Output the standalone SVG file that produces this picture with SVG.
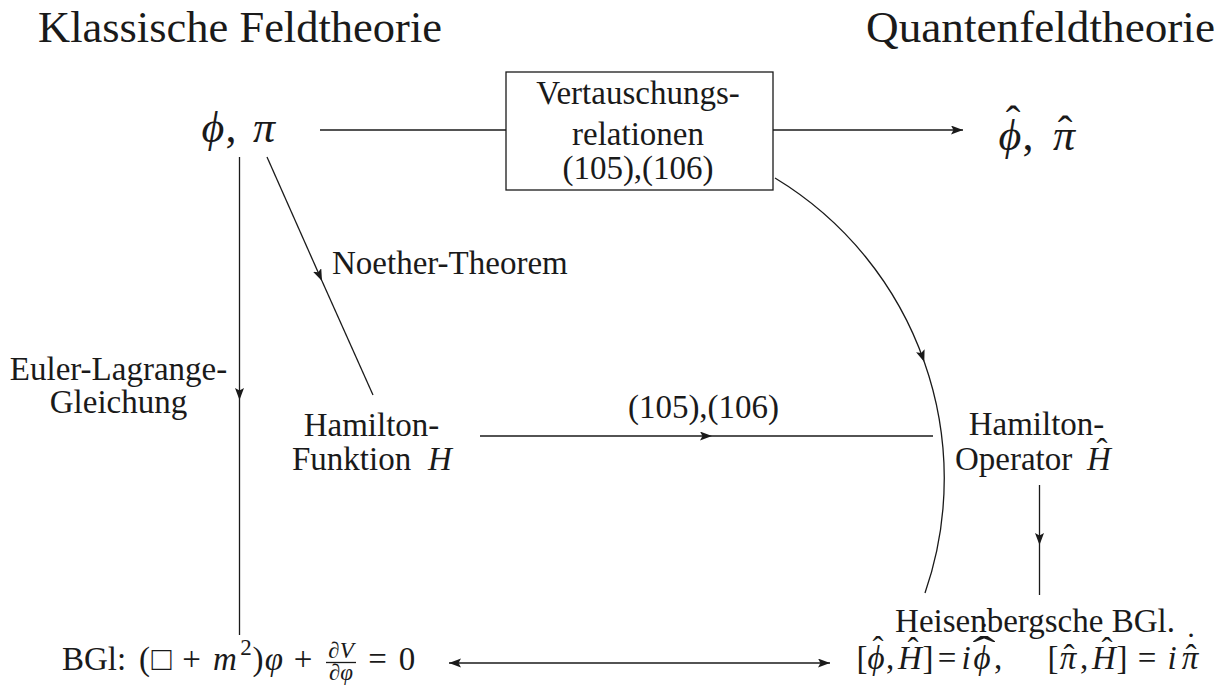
<svg xmlns="http://www.w3.org/2000/svg" width="1217" height="687" viewBox="0 0 1217 687">
<style>
.t{font-family:"Liberation Serif",serif;font-size:33px;fill:#1a1a1a}
.it{font-style:italic}
.big{font-size:44px}
.sm{font-size:23px}
.c{text-anchor:middle}
.ln{stroke:#1a1a1a;stroke-width:1.3;fill:none}
</style>
<defs>
<marker id="ah" markerUnits="userSpaceOnUse" markerWidth="13" markerHeight="10" refX="12" refY="4.5" orient="auto-start-reverse" viewBox="0 0 13 10">
<path d="M0,0 L12,4.5 L0,9 L2.5,4.5 z" fill="#1a1a1a"/>
</marker>
</defs>
<rect width="1217" height="687" fill="#fff"/>

<g id="title-klassisch"><text class="t big" x="38" y="42" textLength="404" lengthAdjust="spacingAndGlyphs">Klassische Feldtheorie</text></g>
<g id="title-quanten"><text class="t big" x="866" y="42" textLength="349" lengthAdjust="spacingAndGlyphs">Quantenfeldtheorie</text></g>

<g id="node-phi-pi">
<text class="t big it c" x="213" y="142">ϕ</text>
<text class="t big c" x="231" y="142">,</text>
<text class="t big it c" x="264" y="142">π</text>
</g>

<g id="node-vertauschung">
<rect class="ln" x="506" y="72" width="267" height="118"/>
<text class="t c" x="638" y="104">Vertauschungs-</text>
<text class="t c" x="638" y="145">relationen</text>
<text class="t c" x="638" y="179">(105),(106)</text>
</g>

<g id="node-phihat-pihat">
<text class="t big it c" x="1010" y="150">ϕ</text>
<text class="t big c" x="1013" y="136">ˆ</text>
<text class="t big c" x="1028" y="150">,</text>
<text class="t big it c" x="1064" y="150">π</text>
<text class="t big c" x="1065" y="146">ˆ</text>
</g>

<g id="label-noether"><text class="t" x="332" y="274">Noether-Theorem</text></g>

<g id="label-euler">
<text class="t c" x="118.5" y="380">Euler-Lagrange-</text>
<text class="t c" x="118.5" y="413">Gleichung</text>
</g>

<g id="node-hamilton-funktion">
<text class="t c" x="371.5" y="436">Hamilton-</text>
<text class="t" x="292" y="470">Funktion</text>
<text class="t it c" x="440" y="470">H</text>
</g>

<g id="label-105-106"><text class="t c" x="703.5" y="418">(105),(106)</text></g>

<g id="node-hamilton-operator">
<text class="t c" x="1036.5" y="435">Hamilton-</text>
<text class="t" x="955" y="470">Operator</text>
<text class="t it c" x="1099" y="470">H</text>
<text class="t c" x="1102" y="462">ˆ</text>
</g>

<g id="node-heisenberg">
<text class="t c" x="1035" y="632">Heisenbergsche BGl.</text>
<text class="t c" x="862" y="669">[</text>
<text class="t it c" x="876" y="669">ϕ</text>
<text class="t c" x="878" y="660">ˆ</text>
<text class="t c" x="890" y="669">,</text>
<text class="t it c" x="910" y="669">H</text>
<text class="t c" x="913" y="661">ˆ</text>
<text class="t c" x="928" y="669">]</text>
<text class="t c" x="947" y="669">=</text>
<text class="t it c" x="966" y="669">i</text>
<text class="t it c" x="982" y="669">ϕ</text>
<text class="t" transform="translate(984,664) scale(2.1,1.2)" x="0" y="0" text-anchor="middle">ˆ</text>
<text class="t c" x="984" y="646">˙</text>
<text class="t c" x="998" y="669">,</text>
<text class="t c" x="1053" y="669">[</text>
<text class="t it c" x="1068" y="669">π</text>
<text class="t c" x="1069" y="668">ˆ</text>
<text class="t c" x="1084" y="669">,</text>
<text class="t it c" x="1104" y="669">H</text>
<text class="t c" x="1107" y="661">ˆ</text>
<text class="t c" x="1122" y="669">]</text>
<text class="t c" x="1147" y="669">=</text>
<text class="t it c" x="1172" y="669">i</text>
<text class="t it c" x="1190" y="669">π</text>
<text class="t c" x="1191" y="668">ˆ</text>
<text class="t c" x="1191" y="656">˙</text>
</g>

<g id="node-bgl">
<text class="t" x="62" y="670">BGl:</text>
<text class="t c" x="144.5" y="670">(</text>
<text class="t c" x="161.5" y="670">□</text>
<text class="t c" x="191.5" y="670">+</text>
<text class="t it c" x="225" y="670">m</text>
<text class="t sm c" x="246" y="655">2</text>
<text class="t c" x="258" y="670">)</text>
<text class="t it c" x="274" y="670">φ</text>
<text class="t c" x="303" y="670">+</text>
<text class="t sm c" x="341" y="658">∂<tspan class="it">V</tspan></text>
<line class="ln" x1="326" y1="662.5" x2="356" y2="662.5"/>
<text class="t sm c" x="341" y="680">∂<tspan class="it">φ</tspan></text>
<text class="t c" x="377.5" y="670">=</text>
<text class="t c" x="407" y="670">0</text>
</g>

<g id="connectors">
<line class="ln" x1="320" y1="130" x2="506" y2="130"/>
<line class="ln" x1="773" y1="130" x2="963" y2="130" marker-end="url(#ah)"/>
<line class="ln" x1="239.5" y1="157" x2="239.5" y2="400" marker-end="url(#ah)"/>
<line class="ln" x1="239.5" y1="400" x2="239.5" y2="635"/>
<line class="ln" x1="267" y1="157" x2="322" y2="281" marker-end="url(#ah)"/>
<line class="ln" x1="322" y1="281" x2="373" y2="395"/>
<line class="ln" x1="480" y1="436" x2="712" y2="436" marker-end="url(#ah)"/>
<line class="ln" x1="712" y1="436" x2="933" y2="436"/>
<path class="ln" d="M775,178 A350,350 0 0 1 924.3,362" marker-end="url(#ah)"/>
<path class="ln" d="M924.3,362 A350,350 0 0 1 925,593"/>
<line class="ln" x1="1039.5" y1="485" x2="1039.5" y2="545" marker-end="url(#ah)"/>
<line class="ln" x1="1039.5" y1="545" x2="1039.5" y2="595"/>
<line class="ln" x1="449" y1="663" x2="830" y2="663" marker-start="url(#ah)" marker-end="url(#ah)"/>
</g>
</svg>
